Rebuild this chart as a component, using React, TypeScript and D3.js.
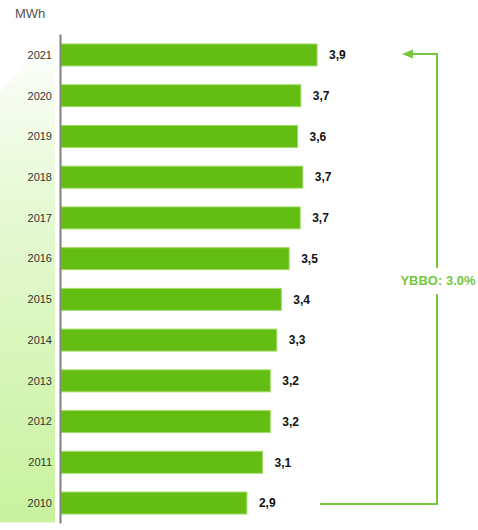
import React, { useEffect, useRef } from 'react'
import * as d3 from 'd3'

// MWh per year, top bar is the latest year
const years = ['2021', '2020', '2019', '2018', '2017', '2016', '2015', '2014', '2013', '2012', '2011', '2010']
const mwh = [3.94, 3.69, 3.64, 3.72, 3.68, 3.51, 3.39, 3.32, 3.22, 3.22, 3.1, 2.86]
const unitLabel = 'MWh'
const growthLabel = 'YBBO: 3.0%'

const W = 478
const H = 530

const comma = d3.formatLocale({ decimal: ',', thousands: '.', grouping: [3], currency: ['', ''] })
const fmt = comma.format('.1f')

export default function App() {
  const ref = useRef<SVGSVGElement>(null)

  useEffect(() => {
    const svg = d3.select(ref.current)
    svg.selectAll('*').remove()

    const x = d3.scaleLinear().domain([0, 4]).range([61, 321])
    const y = d3
      .scaleBand()
      .domain(years)
      .range([34.6, 523.4])
      .paddingInner(0.46)
      .paddingOuter(0.23)

    const defs = svg.append('defs')
    const grad = defs
      .append('linearGradient')
      .attr('id', 'bg')
      .attr('x1', 0)
      .attr('y1', 0)
      .attr('x2', 0)
      .attr('y2', 1)
    grad.append('stop').attr('offset', '0%').attr('stop-color', '#ffffff')
    grad.append('stop').attr('offset', '35%').attr('stop-color', '#e6f9d4')
    grad.append('stop').attr('offset', '100%').attr('stop-color', '#c8f29e')

    // background wedge behind the year labels
    const [r0, r1] = y.range()
    svg
      .append('path')
      .attr('d', `M0,${r0 + 58}L55,${r0 - 1}L55,${r1 - 1}L0,${r1 - 1}Z`)
      .attr('fill', 'url(#bg)')

    svg
      .append('text')
      .attr('x', 15)
      .attr('y', 17.5)
      .attr('font-family', 'Liberation Sans, Arial, sans-serif')
      .attr('font-size', 13)
      .attr('fill', '#555')
      .text(unitLabel)

    const rows = svg
      .append('g')
      .selectAll('g')
      .data(years.map((yr, i) => ({ yr, v: mwh[i] })))
      .enter()
      .append('g')

    rows
      .append('rect')
      .attr('x', x(0))
      .attr('y', d => y(d.yr)!)
      .attr('width', d => x(d.v) - x(0))
      .attr('height', y.bandwidth())
      .attr('fill', '#63bd12')
      .attr('stroke', '#a2dc68')
      .attr('stroke-width', 1)

    rows
      .append('text')
      .attr('x', 52)
      .attr('y', d => y(d.yr)! + y.bandwidth() / 2)
      .attr('dy', '0.35em')
      .attr('text-anchor', 'end')
      .attr('font-family', 'Liberation Sans, Arial, sans-serif')
      .attr('font-size', 11)
      .attr('fill', '#333')
      .text(d => d.yr)

    rows
      .append('text')
      .attr('x', d => x(d.v) + 12)
      .attr('y', d => y(d.yr)! + y.bandwidth() / 2)
      .attr('dy', '0.35em')
      .attr('font-family', 'Liberation Sans, Arial, sans-serif')
      .attr('font-size', 12)
      .attr('font-weight', 'bold')
      .attr('fill', '#111')
      .text(d => fmt(d.v))

    // axis line
    svg
      .append('line')
      .attr('x1', 60.5)
      .attr('x2', 60.5)
      .attr('y1', r0)
      .attr('y2', r1)
      .attr('stroke', '#808080')
      .attr('stroke-width', 2)

    // growth arrow from 2010 to 2021
    const green = '#76c63e'
    const ax = 437
    const yTop = y(years[0])! + y.bandwidth() / 2 - 1
    const yBot = y(years[years.length - 1])! + y.bandwidth() / 2 + 1
    const tx = 402
    const ty = (yTop + yBot) / 2 + 6

    const g = svg.append('g').attr('fill', 'none').attr('stroke', green).attr('stroke-width', 2)
    g.append('path').attr('d', `M320,${yBot}H${ax}V${ty + 9}`)
    g.append('path').attr('d', `M${ax},${ty - 17}V${yTop}H${tx + 8}`)
    svg
      .append('path')
      .attr('d', `M${tx},${yTop}L${tx + 11},${yTop - 4.5}L${tx + 11},${yTop + 4.5}Z`)
      .attr('fill', green)

    svg
      .append('text')
      .attr('x', ax + 1)
      .attr('y', ty)
      .attr('text-anchor', 'middle')
      .attr('font-family', 'Liberation Sans, Arial, sans-serif')
      .attr('font-size', 13)
      .attr('font-weight', 'bold')
      .attr('fill', green)
      .text(growthLabel)
  }, [])

  return (
    <svg
      ref={ref}
      width={W}
      height={H}
      style={{ position: 'absolute', left: 0, top: 0, background: '#fff' }}
    />
  )
}
